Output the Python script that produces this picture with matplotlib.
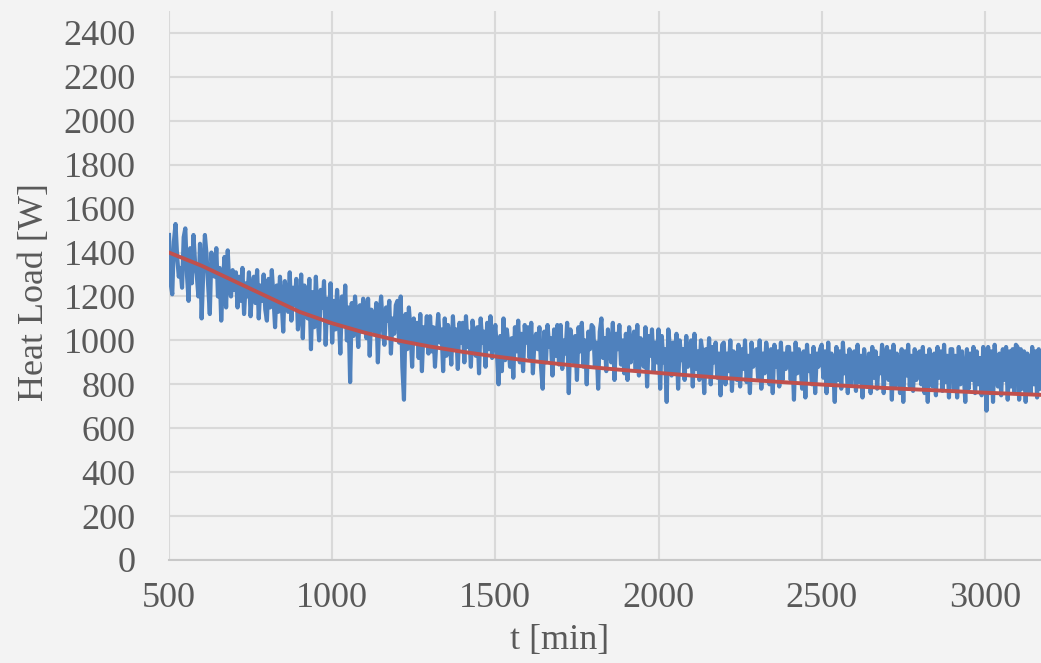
import numpy as np
import matplotlib
matplotlib.use("Agg")
import matplotlib.pyplot as plt

# measured heat load, one reading every 5 min from t = 500 min (one row = 100 min)
t_start, t_step = 500, 5
heat_load = [
    1480, 1260, 1210, 1450, 1530, 1380, 1290, 1330, 1240, 1470, 1510, 1300, 1180, 1420, 1260, 1480, 1350, 1300, 1200, 1440,
    1100, 1310, 1480, 1390, 1250, 1120, 1400, 1300, 1290, 1420, 1200, 1330, 1090, 1260, 1380, 1150, 1410, 1240, 1200, 1320,
    1230, 1310, 1150, 1290, 1180, 1330, 1120, 1260, 1200, 1310, 1110, 1240, 1290, 1170, 1320, 1100, 1250, 1180, 1300, 1140,
    1090, 1280, 1150, 1320, 1200, 1060, 1250, 1130, 1290, 1180, 1040, 1270, 1210, 1130, 1310, 1090, 1240, 1160, 1280, 1050,
    1130, 1300, 1010, 1250, 1170, 1100, 1280, 960, 1220, 1060, 1290, 1120, 1000, 1230, 1150, 1270, 980, 1190, 1080, 1260,
    990, 1180, 1050, 1230, 1110, 940, 1200, 1070, 1250, 1000, 1150, 810, 1170, 1020, 1200, 1090, 970, 1160, 1040, 1190,
    1150, 1010, 1190, 930, 1140, 1060, 1040, 1170, 900, 1120, 1200, 1060, 980, 1150, 1090, 1180, 940, 1100, 1030, 1160,
    1180, 990, 1200, 880, 730, 1120, 960, 1150, 1050, 880, 1100, 1000, 1080, 920, 1120, 860, 1060, 990, 1110, 940,
    1110, 950, 1060, 880, 1020, 1120, 990, 1050, 860, 1100, 930, 1070, 1010, 890, 1110, 960, 1050, 870, 1080, 990,
    1080, 900, 1110, 970, 1040, 880, 1090, 1020, 930, 1060, 850, 1100, 990, 1040, 880, 1080, 960, 1110, 920, 1000,
    1070, 940, 800, 1020, 860, 1100, 910, 1050, 980, 880, 1010, 830, 1060, 950, 1090, 900, 1030, 860, 1070, 990,
    1060, 920, 1080, 850, 1000, 1030, 960, 1060, 880, 780, 1040, 900, 1070, 970, 1010, 840, 1050, 930, 1070, 890,
    1070, 870, 1000, 940, 1080, 760, 1050, 990, 900, 1020, 820, 1060, 950, 1080, 880, 1000, 800, 1040, 960, 1070,
    1060, 880, 990, 780, 1040, 1100, 920, 1010, 860, 1050, 970, 900, 1080, 820, 1030, 960, 1070, 890, 1000, 850,
    1030, 820, 1060, 900, 990, 1040, 870, 1070, 840, 1010, 950, 880, 1060, 790, 1020, 930, 1050, 860, 990, 900,
    1050, 780, 1020, 900, 960, 720, 1050, 970, 840, 990, 860, 1030, 780, 1000, 910, 960, 820, 1020, 880, 950,
    1000, 790, 1030, 870, 950, 820, 1000, 940, 760, 960, 850, 1010, 800, 970, 900, 990, 830, 940, 750, 980,
    990, 800, 940, 860, 1000, 770, 950, 900, 820, 980, 790, 960, 870, 1000, 810, 930, 760, 990, 880, 950,
    960, 830, 1000, 780, 940, 850, 990, 930, 800, 960, 760, 980, 880, 950, 790, 990, 820, 940, 870, 970,
    970, 820, 940, 730, 990, 850, 960, 900, 780, 950, 740, 980, 860, 930, 800, 970, 760, 940, 880, 960,
    980, 830, 950, 760, 990, 800, 940, 880, 720, 970, 820, 950, 780, 990, 850, 930, 760, 960, 800, 940,
    950, 770, 980, 810, 930, 740, 960, 870, 790, 940, 760, 970, 830, 950, 780, 920, 850, 980, 760, 940,
    970, 820, 950, 730, 980, 790, 940, 880, 760, 960, 720, 950, 840, 980, 790, 930, 770, 960, 820, 940,
    950, 800, 970, 760, 930, 720, 960, 870, 790, 940, 750, 970, 830, 950, 770, 980, 810, 930, 740, 960,
    960, 780, 930, 740, 970, 800, 950, 860, 720, 960, 780, 940, 820, 970, 760, 950, 800, 920, 750, 970,
    940, 680, 970, 760, 950, 720, 980, 870, 790, 940, 750, 960, 820, 970, 730, 950, 790, 960, 760, 980,
    970, 730, 960, 780, 950, 720, 940, 860, 760, 970, 800, 950, 740, 960, 780,
]
t = t_start + t_step * np.arange(len(heat_load))

# smoothed trend
trend_t = [500, 600, 700, 800, 900, 1000, 1100, 1200, 1300, 1400,
           1500, 1600, 1700, 1800, 1900, 2000, 2100, 2200, 2300, 2400,
           2500, 2600, 2700, 2800, 2900, 3000, 3100, 3170]
trend = [1400, 1340, 1270, 1200, 1130, 1078, 1035, 1000, 972, 948,
         927, 908, 892, 877, 864, 852, 840, 829, 818, 808,
         799, 791, 783, 776, 769, 762, 756, 752]

x_ticks = [500, 1000, 1500, 2000, 2500, 3000]
y_ticks = list(range(0, 2401, 200))

txt = '#595959'
grid = '#d9d9d9'
bg = '#f3f3f3'

plt.rcParams['font.family'] = ['Liberation Serif', 'DejaVu Serif']

fig = plt.figure(figsize=(10.41, 6.63), dpi=100)
fig.patch.set_facecolor(bg)
ax = fig.add_axes([169/1041, 1 - 560/663, 1 - 169/1041, (560 - 11)/663])
ax.set_facecolor(bg)

ax.plot(t, heat_load, color='#4f81bd', lw=3.0, solid_joinstyle='round', zorder=3)
ax.plot(trend_t, trend, color='#c0504d', lw=2.8, zorder=4)

ax.set_xlim(500, 3172)
ax.set_ylim(0, 2500)
ax.set_xticks(x_ticks)
ax.set_yticks(y_ticks)
ax.grid(True, color=grid, lw=1.5, zorder=0)
ax.set_axisbelow(True)
for s in ['top', 'right', 'left']:
    ax.spines[s].set_visible(False)
ax.spines['bottom'].set_color('#c8c8c8')
ax.spines['bottom'].set_linewidth(1.5)
ax.tick_params(length=0, labelsize=26, labelcolor=txt)
ax.tick_params(axis='y', pad=24)
ax.tick_params(axis='x', pad=16)

fig.text(35/1041, 1 - 292/663, 'Heat Load [W]', rotation=90, fontsize=26,
         color=txt, ha='center', va='center')
fig.text(560/1041, 1 - 640/663, 't [min]', fontsize=26, color=txt,
         ha='center', va='center')

fig.savefig('out.png', dpi=100, facecolor=bg)
